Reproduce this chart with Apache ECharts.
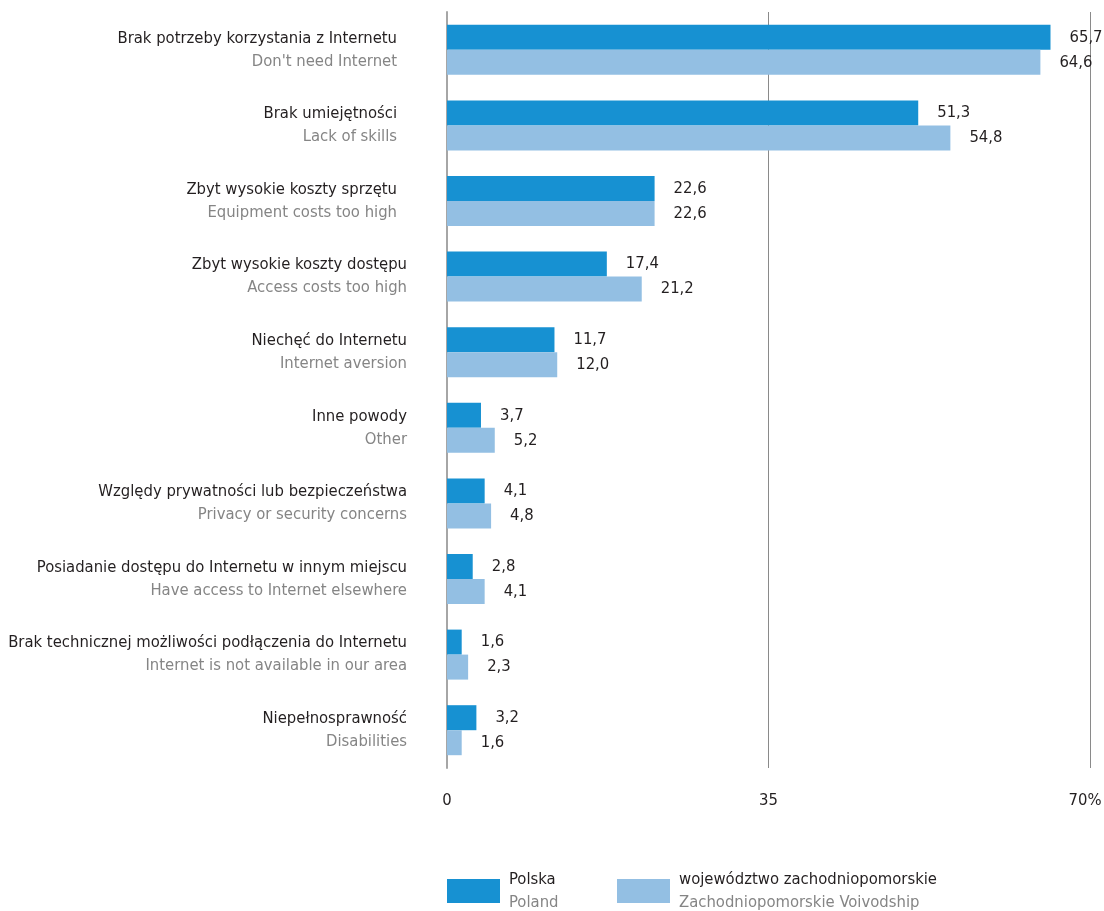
<!DOCTYPE html>
<html>
<head>
<meta charset="utf-8">
<script src="https://cdn.jsdelivr.net/npm/echarts@6/dist/echarts.min.js"></script>
<style>
  html, body { margin: 0; padding: 0; background: #fff; }
  #chart { width: 1104px; height: 911px; }
</style>
</head>
<body>
<div id="chart"></div>
<script>
// Reasons for not having Internet access at home (% of households)
const categoriesPl = [
  'Brak potrzeby korzystania z Internetu',
  'Brak umiejętności',
  'Zbyt wysokie koszty sprzętu',
  'Zbyt wysokie koszty dostępu',
  'Niechęć do Internetu',
  'Inne powody',
  'Względy prywatności lub bezpieczeństwa',
  'Posiadanie dostępu do Internetu w innym miejscu',
  'Brak technicznej możliwości podłączenia do Internetu',
  'Niepełnosprawność'
];
const categoriesEn = [
  "Don't need Internet",
  'Lack of skills',
  'Equipment costs too high',
  'Access costs too high',
  'Internet aversion',
  'Other',
  'Privacy or security concerns',
  'Have access to Internet elsewhere',
  'Internet is not available in our area',
  'Disabilities'
];
const polska = [65.7, 51.3, 22.6, 17.4, 11.7, 3.7, 4.1, 2.8, 1.6, 3.2];
const zachodniopomorskie = [64.6, 54.8, 22.6, 21.2, 12.0, 5.2, 4.8, 4.1, 2.3, 1.6];
const xTicks = [0, 35, 70];

const FONT = '"DejaVu Sans Condensed", "Liberation Sans Narrow", sans-serif';
const FS = 16.5;
const DARK = '#1791d2';
const LIGHT = '#93bfe3';
const TEXT = '#231f20';
const GREY = '#858585';

// the first rows sit slightly further from the axis
const shiftedRows = 3;

const fmt = v => v.toFixed(1).replace('.', ',');

const legendText = {
  padding: [0, 0, 0, 4],
  rich: {
    a: { fontFamily: FONT, fontSize: FS, color: TEXT, lineHeight: 23 },
    b: { fontFamily: FONT, fontSize: FS, color: GREY, lineHeight: 23 }
  }
};

const chart = echarts.init(document.getElementById('chart'));

chart.setOption({
  animation: false,
  textStyle: { fontFamily: FONT },
  grid: {
    left: 447, right: 14, top: 12, bottom: 143,
    containLabel: false, outerBoundsMode: 'none'
  },
  legend: [
    {
      data: ['pl'],
      left: 447, top: 871, padding: 0,
      itemWidth: 53, itemHeight: 24, itemGap: 0,
      icon: 'rect',
      formatter: () => '{a|Polska}\n{b|Poland}',
      textStyle: legendText
    },
    {
      data: ['zp'],
      left: 617, top: 871, padding: 0,
      itemWidth: 53, itemHeight: 24, itemGap: 0,
      icon: 'rect',
      formatter: () => '{a|województwo zachodniopomorskie}\n{b|Zachodniopomorskie Voivodship}',
      textStyle: legendText
    }
  ],
  xAxis: {
    type: 'value',
    min: xTicks[0],
    max: xTicks[xTicks.length - 1],
    interval: xTicks[1] - xTicks[0],
    axisLine: { show: false },
    axisTick: { show: false },
    splitLine: { show: true, lineStyle: { color: '#8a8a8a', width: 1 } },
    axisLabel: {
      margin: 24,
      fontFamily: FONT,
      fontSize: FS,
      color: TEXT,
      formatter: v => (v === xTicks[xTicks.length - 1] ? '{last|' + v + '%}' : String(v)),
      rich: {
        last: { fontFamily: FONT, fontSize: FS, color: TEXT, padding: [0, 10, 0, 0] }
      }
    }
  },
  yAxis: {
    type: 'category',
    inverse: true,
    data: categoriesPl,
    axisLine: { show: true, lineStyle: { color: '#a6a6a6', width: 2 } },
    axisTick: { show: false },
    axisLabel: {
      margin: 40,
      formatter: (val, idx) => {
        const s = idx < shiftedRows ? 's' : '';
        return '{pl' + s + '|' + val + '}\n{en' + s + '|' + categoriesEn[idx] + '}';
      },
      rich: {
        pl: { fontFamily: FONT, fontSize: FS, color: TEXT, lineHeight: 23, align: 'right' },
        en: { fontFamily: FONT, fontSize: FS, color: GREY, lineHeight: 23, align: 'right' },
        pls: { fontFamily: FONT, fontSize: FS, color: TEXT, lineHeight: 23, align: 'right', padding: [0, 10, 0, 0] },
        ens: { fontFamily: FONT, fontSize: FS, color: GREY, lineHeight: 23, align: 'right', padding: [0, 10, 0, 0] }
      }
    }
  },
  series: [
    {
      name: 'pl',
      type: 'bar',
      data: polska,
      barWidth: 25,
      barGap: '0%',
      itemStyle: { color: DARK },
      label: {
        show: true, position: 'right', distance: 19,
        fontFamily: FONT, fontSize: FS, color: TEXT,
        formatter: p => fmt(p.value)
      }
    },
    {
      name: 'zp',
      type: 'bar',
      data: zachodniopomorskie,
      barWidth: 25,
      barGap: '0%',
      itemStyle: { color: LIGHT },
      label: {
        show: true, position: 'right', distance: 19,
        fontFamily: FONT, fontSize: FS, color: TEXT,
        formatter: p => fmt(p.value)
      }
    }
  ]
});
</script>
</body>
</html>
